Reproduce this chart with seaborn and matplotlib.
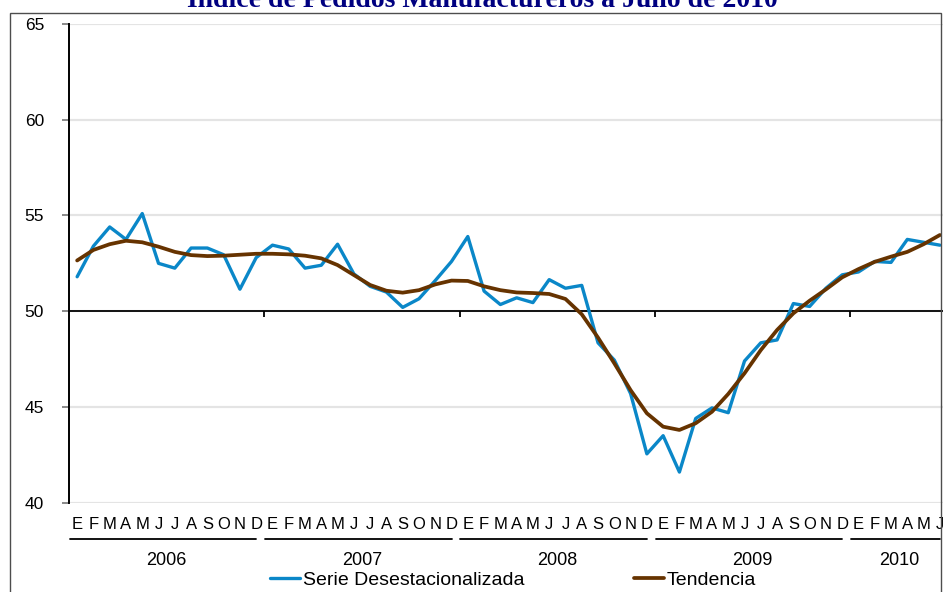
"""
Índice de Pedidos Manufactureros: serie desestacionalizada y tendencia, 2006-2010.
"""
import pandas as pd
import seaborn as sns
from matplotlib import pyplot as plt
from matplotlib.patches import Rectangle

years = ["2006", "2007", "2008", "2009", "2010"]
months_per_year = [12, 12, 12, 12, 6]
month_letters = ["E", "F", "M", "A", "M", "J", "J", "A", "S", "O", "N", "D"]

serie = [51.8, 53.4, 54.4, 53.75, 55.1, 52.5, 52.25, 53.3, 53.3, 52.95, 51.15, 52.8,
         53.45, 53.25, 52.25, 52.4, 53.5, 51.95, 51.3, 51.0, 50.2, 50.65, 51.6, 52.6,
         53.9, 51.05, 50.35, 50.7, 50.45, 51.65, 51.2, 51.35, 48.35, 47.45, 45.7, 42.55,
         43.5, 41.6, 44.4, 44.95, 44.7, 47.4, 48.35, 48.5, 50.4, 50.25, 51.2, 51.9,
         52.05, 52.6, 52.55, 53.75, 53.6, 53.45]
tendencia = [52.65, 53.2, 53.5, 53.68, 53.6, 53.37, 53.1, 52.93, 52.88, 52.9, 52.95, 53.0,
             53.0, 52.97, 52.9, 52.76, 52.41, 51.89, 51.37, 51.07, 50.97, 51.1, 51.4, 51.6,
             51.58, 51.3, 51.1, 50.98, 50.95, 50.9, 50.64, 49.84, 48.62, 47.28, 45.88, 44.67,
             43.97, 43.8, 44.15, 44.75, 45.68, 46.76, 47.97, 49.02, 49.89, 50.55, 51.14, 51.77,
             52.2, 52.58, 52.85, 53.1, 53.5, 53.98]

month_labels = [m for n in months_per_year for m in month_letters[:n]]
df = pd.DataFrame({"pos": range(len(serie)), "serie": serie, "tendencia": tendencia})

sns.set_style("white")
plt.rcParams["font.family"] = ["Liberation Sans", "DejaVu Sans"]
plt.rcParams["text.color"] = "black"
plt.rcParams["xtick.labelcolor"] = "black"
plt.rcParams["ytick.labelcolor"] = "black"

W, H = 943, 592
fig = plt.figure(figsize=(W / 100, H / 100), dpi=100)
# plot area runs a little past the right edge of the picture, like the original
ax = fig.add_axes([69 / W, 89.3 / H, 879 / W, 478.7 / H])

sns.lineplot(data=df, x="pos", y="serie", ax=ax, color="#0A87C8", lw=2.4,
             label="Serie Desestacionalizada", zorder=3)
sns.lineplot(data=df, x="pos", y="tendencia", ax=ax, color="#663300", lw=2.7,
             label="Tendencia", zorder=4)

ax.set_xlim(-0.5, len(serie) - 0.5)
ax.set_ylim(40, 65)
ax.set_yticks(range(40, 70, 5))
ax.grid(axis="y", color="#e4e4e4", lw=1.6)
ax.set_axisbelow(True)
ax.axhline(50, color="black", lw=1.3, zorder=2)

for side in ["top", "right", "bottom"]:
    ax.spines[side].set_visible(False)
ax.spines["left"].set_color("black")
ax.spines["left"].set_linewidth(1.4)

ax.tick_params(axis="y", left=True, length=5, width=1.3, color="#808080",
               labelsize=12.5, pad=13, labelcolor="black")
ax.set_xticks(range(len(month_labels)))
ax.set_xticklabels(month_labels)
ax.tick_params(axis="x", bottom=False, length=0, labelsize=12, pad=10, labelcolor="black")
ax.set_xlabel("")
ax.set_ylabel("")

# year boundaries: ticks on the 50 line, underline and year label below the months
trans = ax.get_xaxis_transform()
start = 0
for year, n in zip(years, months_per_year):
    if start > 0:
        ax.vlines(start - 0.5, 49.68, 50, color="black", lw=1.3, zorder=2)
    ax.plot([start - 0.45, start + n - 1], [-0.0758, -0.0758], transform=trans,
            clip_on=False, color="black", lw=1.3)
    ax.text(start + (n - 1) / 2, -0.1197, year, transform=trans, ha="center",
            va="center", fontsize=13, color="black")
    start += n

handles, labels = ax.get_legend_handles_labels()
ax.get_legend().remove()
fig.legend(handles, labels, loc="center", bbox_to_anchor=(513 / W, 12 / H), ncol=2,
           frameon=False, fontsize=14, handlelength=1.55, handletextpad=0.17,
           columnspacing=5.6, borderaxespad=0, labelcolor="black")

# outer frame of the original chart object
fig.add_artist(Rectangle((10 / W, -0.02), 931 / W, 1.02 - 13 / H, transform=fig.transFigure,
                         fill=False, ec="#4d4d4d", lw=1.0))

# the title sits half outside the picture in the original
fig.text(482 / W, 1 - 7 / H, "Índice de Pedidos Manufactureros a Julio de 2010",
         ha="center", va="baseline", family=["Liberation Serif", "DejaVu Serif"],
         weight="bold", size=20, color="#000080")

fig.savefig("out.png", dpi=100, facecolor="white")
plt.close(fig)
